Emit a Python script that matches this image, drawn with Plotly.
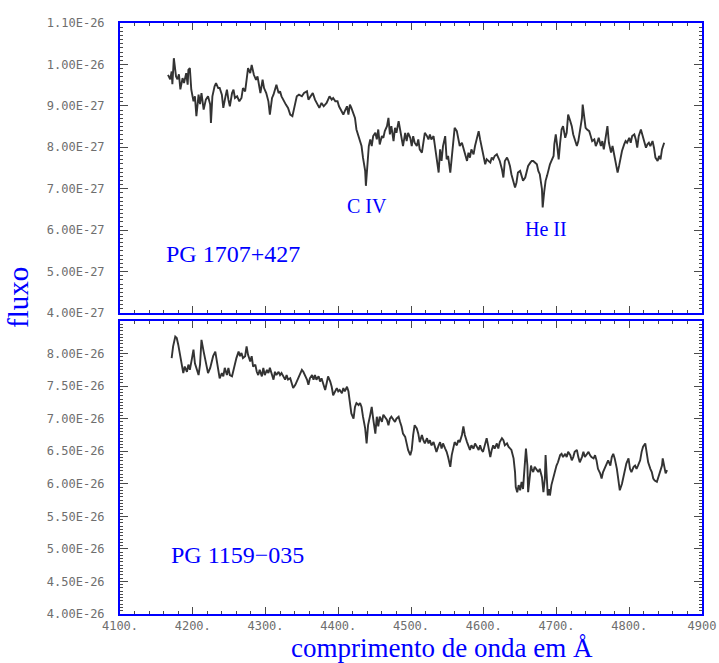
import plotly.graph_objects as go

# ---------------- data ----------------
# PG 1707+427 : wavelength (Angstrom) and flux in units of 1e-27
wl_top = [4166,4169,4171,4172,4174,4177,4179,4181,4183,4186,
          4188,4191,4193,4194,4196,4198,4201,4203,4205,4208,
          4210,4212,4215,4218,4221,4224,4225,4227,4230,4232,
          4235,4237,4240,4242,4245,4247,4249,4251,4254,4256,
          4258,4261,4264,4267,4269,4272,4274,4276,4279,4281,
          4284,4287,4289,4291,4293,4296,4298,4301,4304,4306,
          4309,4311,4313,4315,4318,4320,4322,4325,4328,4331,
          4334,4337,4341,4343,4346,4350,4353,4357,4359,4362,
          4365,4368,4371,4374,4377,4380,4384,4388,4391,
          4393,4396,4399,4401,4405,4407,4409,4412,4414,4416,
          4418,4421,4423,4425,4428,4430,4432,4434,4437,4438,
          4440,4442,4444,4446,4448,4451,4453,4455,4457,4460,
          4462,4464,4467,4469,4471,4473,4476,4478,4480,4483,
          4485,4487,4489,4492,4494,4496,4499,4501,4503,4505,
          4508,4510,4512,4515,4517,4519,4522,4524,4526,4528,
          4531,4533,4535,4538,4540,4542,4544,4547,4549,4551,
          4554,4556,4558,4560,4563,4565,4567,4570,4572,4574,
          4577,4579,4581,4583,4586,4588,4590,4593,4595,4597,
          4599,4602,4604,4606,4609,4611,4613,4615,4618,4620,
          4622,4625,4627,
          4629,4632,4634,4636,4638,4641,4643,4645,4647,4650,
          4652,4654,4657,4659,4661,4664,4666,4668,4670,4673,
          4675,4677,4680,4681,4683,4685,4687,4689,4691,4693,
          4696,4697,4699,4701,4703,4705,4707,4709,4712,4714,
          4716,4719,4721,4723,4725,4728,4730,4732,4735,4736,
          4738,4740,4742,4745,4747,4749,4752,4754,4756,4758,
          4761,4763,4765,4768,4770,4772,4775,4777,4779,4781,
          4784,4786,4788,4790,4793,4795,4797,4800,4802,4804,
          4807,4809,4811,4813,4816,4818,4820,4823,4825,4827,
          4829,4832,4834,4836,4839,4841,4843,4845,4848]
flux_top = [9.75,9.64,9.83,9.52,10.15,9.71,9.64,9.76,9.40,9.67,
            9.55,9.79,9.51,9.87,9.91,9.39,9.11,9.23,8.75,9.27,
            9.04,9.31,8.91,9.15,9.23,9.03,8.59,9.23,9.47,9.55,
            9.43,9.43,9.27,8.95,9.23,9.39,9.15,8.99,9.31,9.39,
            9.19,9.23,9.11,9.19,9.43,9.35,9.63,9.91,9.79,9.99,
            9.75,9.63,9.71,9.51,9.31,9.63,9.43,9.31,9.11,8.79,
            9.19,9.27,9.39,9.51,9.31,9.35,9.23,9.11,9.03,8.95,
            8.79,8.75,9.07,9.23,9.27,9.23,9.31,9.35,9.15,9.23,
            9.31,9.15,9.03,8.95,9.07,8.99,9.07,9.23,9.15,
            9.19,9.11,9.11,8.99,8.83,8.79,8.87,8.99,8.79,9.03,
            8.95,8.83,8.71,8.43,8.27,8.11,8.03,7.75,7.43,7.07,
            7.63,8.03,8.19,8.03,8.27,8.35,8.19,8.43,8.07,8.27,
            8.23,8.39,8.51,8.71,8.31,8.51,8.15,8.47,8.35,8.63,
            8.43,8.27,8.03,8.35,8.15,8.35,8.23,8.03,8.27,8.11,
            8.03,8.19,7.95,7.87,8.11,8.35,8.27,8.19,8.31,8.19,
            8.27,8.03,7.71,7.39,7.95,7.67,8.03,8.27,7.71,7.79,
            7.39,7.79,8.11,8.47,8.39,8.23,8.03,8.11,7.99,7.87,
            7.67,7.87,7.75,7.95,7.83,8.03,8.19,8.39,8.19,7.99,
            7.87,7.59,7.71,7.67,7.63,7.75,7.71,7.79,7.83,7.75,
            7.67,7.47,7.27,
            7.67,7.75,7.67,7.55,7.35,7.19,7.03,7.15,7.39,7.43,
            7.27,7.19,7.27,7.39,7.55,7.63,7.67,7.67,7.63,7.59,
            7.43,7.35,6.99,6.55,6.91,7.19,7.31,7.47,7.59,7.67,
            7.79,8.07,8.31,8.03,7.71,8.11,8.43,8.51,8.23,8.35,
            8.79,8.63,8.51,8.31,8.19,8.03,8.15,8.35,8.71,9.03,
            8.71,8.47,8.43,8.39,8.27,8.15,8.19,8.03,8.11,8.23,
            8.03,8.15,7.95,8.27,8.51,8.11,7.87,8.03,7.87,7.63,
            7.39,7.55,7.79,7.91,8.07,8.15,8.11,8.23,8.11,8.27,
            8.31,8.19,7.99,8.27,8.43,8.31,8.15,7.99,8.07,8.11,
            8.03,8.15,7.99,7.75,7.67,7.79,7.71,7.95,8.11]

# PG 1159-035 : wavelength (Angstrom) and flux in units of 1e-26
wl_bot = [4171,4173,4176,4178,4180,4182,4185,4187,4189,4192,
          4194,4196,4199,4201,4203,4205,4208,4210,4212,4215,
          4217,4219,4221,4224,4226,4228,4231,4233,4235,4237,
          4240,4242,4244,4247,4249,4251,4254,4256,4258,4260,
          4263,4265,4267,4269,4272,4274,4276,4279,4281,4283,
          4286,4288,4290,4292,4295,4297,4299,4302,4304,4306,
          4309,4311,4313,4315,4318,4320,4322,4324,4327,4329,
          4331,4334,4336,4338,4341,4343,4345,4347,4350,4352,
          4354,4357,4359,4361,4364,4366,4368,4370,4373,4375,
          4377,4379,4382,4384,4386,
          4389,4391,4393,4396,4398,4400,4402,4405,4407,4409,
          4412,4414,4416,4418,4421,4423,4425,4428,4430,4432,
          4434,4437,4439,4441,4444,4446,4448,4451,4453,4455,
          4457,4460,4462,4464,4467,4469,4471,4473,4476,4478,
          4480,4483,4485,4487,4489,4492,4494,4496,4499,4501,
          4503,4505,4508,4510,4512,4515,4517,4519,4522,4524,
          4526,4528,4531,4533,4535,4538,4540,4542,4544,4547,
          4549,4551,4554,4556,4558,4560,4563,4565,4567,4570,
          4572,4574,4577,4579,4581,4583,4586,4588,4590,4593,
          4595,4597,4599,4602,4604,4606,4609,4611,4613,4615,
          4618,4620,4622,
          4625,4627,4629,4632,4634,4636,4638,4641,4643,4644,
          4646,4648,4650,4652,4654,4655,4657,4658,4660,4661,
          4663,4665,4666,4668,4670,4673,4675,4677,4680,4682,
          4684,4685,4687,4688,4690,4691,4693,4696,4698,4700,
          4702,4705,4707,4709,4712,4714,4716,4719,4721,4723,
          4725,4728,4730,4732,4735,4737,4739,4742,4744,4746,
          4748,4751,4753,4755,4757,4760,4762,4764,4767,4769,
          4771,4774,4776,4778,4780,4783,4785,4787,4790,4792,
          4794,4796,4799,4801,4803,4806,4808,4810,4812,4815,
          4817,4819,4822,4824,4826,4829,4831,4833,4835,4838,
          4840,4842,4845,4846,4848,4850,4852]
flux_bot = [7.93,8.11,8.26,8.24,8.14,8.01,7.83,7.70,7.80,7.72,
            7.83,7.75,7.93,8.06,7.85,7.78,7.67,7.83,8.21,8.03,
            7.90,7.78,7.70,7.78,7.88,7.96,8.03,7.88,7.72,7.62,
            7.70,7.65,7.78,7.67,7.78,7.67,7.65,7.75,7.85,7.93,
            8.03,7.96,8.01,7.93,7.96,8.11,7.98,7.88,7.96,7.80,
            7.83,7.72,7.67,7.75,7.65,7.78,7.67,7.75,7.70,7.78,
            7.67,7.60,7.72,7.67,7.72,7.67,7.70,7.65,7.60,7.67,
            7.60,7.62,7.54,7.47,7.52,7.57,7.60,7.67,7.75,7.72,
            7.67,7.60,7.52,7.62,7.67,7.60,7.67,7.60,7.65,7.57,
            7.62,7.54,7.44,7.54,7.65,
            7.57,7.49,7.36,7.42,7.47,7.42,7.44,7.39,7.47,7.42,
            7.49,7.42,7.24,7.08,7.00,7.18,7.24,7.21,7.24,7.18,
            7.03,6.85,6.62,6.90,7.06,7.18,7.00,6.77,7.03,6.88,
            7.03,6.95,7.06,7.03,6.98,6.90,7.00,7.03,6.98,6.95,
            7.00,7.03,6.95,6.88,6.77,6.72,6.62,6.52,6.44,6.52,
            6.75,6.90,6.85,6.77,6.64,6.75,6.67,6.62,6.70,6.62,
            6.67,6.59,6.64,6.57,6.49,6.59,6.64,6.54,6.62,6.54,
            6.49,6.41,6.26,6.44,6.57,6.64,6.59,6.67,6.64,6.75,
            6.88,6.75,6.64,6.57,6.52,6.59,6.54,6.62,6.57,6.52,
            6.59,6.52,6.49,6.62,6.70,6.59,6.41,6.52,6.59,6.54,
            6.62,6.54,6.64,
            6.70,6.67,6.59,6.62,6.57,6.54,6.52,6.39,6.18,5.95,
            5.87,5.98,5.90,6.03,5.92,6.08,6.39,6.54,6.28,5.87,
            6.08,6.28,6.23,6.18,6.26,6.21,6.18,6.23,6.10,5.87,
            6.08,6.44,6.03,5.82,5.92,5.82,5.98,6.13,6.18,6.28,
            6.33,6.44,6.46,6.41,6.46,6.41,6.49,6.44,6.36,6.41,
            6.49,6.52,6.41,6.33,6.41,6.49,6.41,6.46,6.49,6.44,
            6.41,6.39,6.44,6.36,6.23,6.16,6.08,6.18,6.26,6.31,
            6.36,6.28,6.41,6.46,6.39,6.23,6.03,5.90,6.00,6.10,
            6.18,6.31,6.39,6.23,6.18,6.26,6.28,6.23,6.28,6.36,
            6.49,6.57,6.62,6.46,6.33,6.23,6.18,6.08,6.05,6.03,
            6.10,6.16,6.28,6.39,6.28,6.16,6.21]

# tick values / labels
x_tick_vals = [4100, 4200, 4300, 4400, 4500, 4600, 4700, 4800, 4900]
x_tick_text = ["4100.", "4200.", "4300.", "4400.", "4500.", "4600.", "4700.", "4800.", "4900"]
y_top_vals = [4, 5, 6, 7, 8, 9, 10, 11]
y_top_text = ["4.00E-27", "5.00E-27", "6.00E-27", "7.00E-27", "8.00E-27",
              "9.00E-27", "1.00E-26", "1.10E-26"]
y_bot_vals = [4.0, 4.5, 5.0, 5.5, 6.0, 6.5, 7.0, 7.5, 8.0]
y_bot_text = ["4.00E-26", "4.50E-26", "5.00E-26", "5.50E-26", "6.00E-26",
              "6.50E-26", "7.00E-26", "7.50E-26", "8.00E-26"]

top_label = "PG 1707+427"
bot_label = "PG 1159\u2212035"
line_labels = ["C IV", "He II"]

# ---------------- figure ----------------
W, H = 719, 663
BLUE = "#0000ff"
LINE = "#333333"
TICKC = "#4a4a4a"
LABC = "#6e6e6e"

def px(x):
    return x / W

def py(y):
    return 1 - y / H

n1 = min(len(wl_top), len(flux_top))
n2 = min(len(wl_bot), len(flux_bot))

fig = go.Figure()
fig.add_trace(go.Scatter(x=wl_top[:n1], y=flux_top[:n1], mode="lines",
                         line=dict(color=LINE, width=1.9), xaxis="x", yaxis="y",
                         showlegend=False, hoverinfo="skip"))
fig.add_trace(go.Scatter(x=wl_bot[:n2], y=flux_bot[:n2], mode="lines",
                         line=dict(color=LINE, width=1.9), xaxis="x2", yaxis="y2",
                         showlegend=False, hoverinfo="skip"))

xdom = [px(120), px(702)]
tickfont = dict(family="DejaVu Sans Mono", size=12, color=LABC)

common_ax = dict(showline=True, linecolor=BLUE, linewidth=2, mirror="allticks",
                 ticks="inside", tickcolor=TICKC, tickwidth=1, automargin=False,
                 showgrid=False, zeroline=False, tickfont=tickfont)

fig.update_layout(
    width=W, height=H,
    margin=dict(l=0, r=0, t=0, b=0, pad=0, autoexpand=False),
    paper_bgcolor="white", plot_bgcolor="white",
    xaxis=dict(domain=xdom, anchor="y", range=[4100, 4900],
               tickvals=x_tick_vals, showticklabels=False, ticklen=7,
               minor=dict(dtick=20, ticklen=3, ticks="inside", tickcolor=TICKC),
               **common_ax),
    yaxis=dict(domain=[py(313), py(23)], anchor="x", range=[4, 11],
               tickvals=y_top_vals, ticktext=y_top_text, ticklen=8,
               ticklabelstandoff=11,
               minor=dict(dtick=0.1, ticklen=3, ticks="inside", tickcolor=TICKC),
               **common_ax),
    xaxis2=dict(domain=xdom, anchor="y2", range=[4100, 4900],
                tickvals=x_tick_vals, ticktext=x_tick_text, ticklen=7,
                ticklabelstandoff=0,
                minor=dict(dtick=20, ticklen=3, ticks="inside", tickcolor=TICKC),
                **common_ax),
    yaxis2=dict(domain=[py(614), py(321)], anchor="x2", range=[4, 8.5],
                tickvals=y_bot_vals, ticktext=y_bot_text, ticklen=8,
                ticklabelstandoff=11,
                minor=dict(dtick=0.05, ticklen=3, ticks="inside", tickcolor=TICKC),
                **common_ax),
)

serif = "Liberation Serif"
annots = [
    dict(text=top_label, x=px(233), y=py(254), size=24),
    dict(text=line_labels[0], x=px(367), y=py(206), size=20),
    dict(text=line_labels[1], x=px(546), y=py(229), size=20),
    dict(text=bot_label, x=px(237), y=py(555), size=24),
    dict(text="comprimento de onda em \u00c5", x=px(442), y=py(648), size=27),
]
for a in annots:
    fig.add_annotation(text=a["text"], x=a["x"], y=a["y"], xref="paper", yref="paper",
                       xanchor="center", yanchor="middle", showarrow=False,
                       font=dict(family=serif, size=a["size"], color=BLUE))
fig.add_annotation(text="fluxo", x=px(18), y=py(298), xref="paper", yref="paper",
                   xanchor="center", yanchor="middle", showarrow=False, textangle=-90,
                   font=dict(family=serif, size=29, color=BLUE))

fig.write_html("out.html")
